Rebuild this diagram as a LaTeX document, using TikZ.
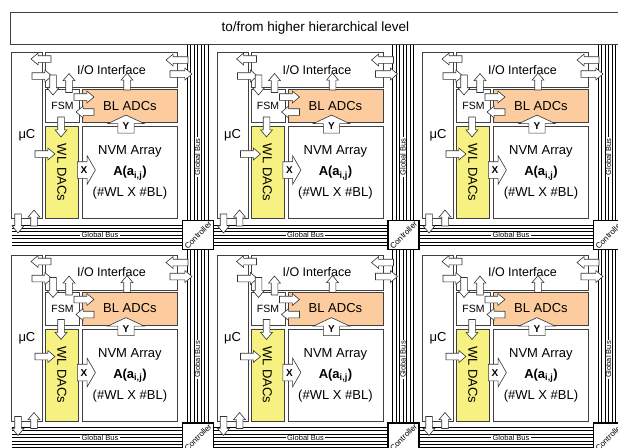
\documentclass[tikz,border=0pt]{standalone}
\usepackage{fontspec}
\setmainfont{Liberation Sans}
\usepackage{tikz}
\usetikzlibrary{shapes.arrows}

\definecolor{adcorange}{RGB}{252,204,158}
\definecolor{dacyellow}{RGB}{246,241,128}

\begin{document}
\begin{tikzpicture}[
  x=1pt, y=-1pt,
  every node/.style={inner sep=0pt},
  unit/.style={draw=black!75, line width=0.9pt, fill=white, anchor=north west, font=\fontsize{13}{15}\selectfont},
  blk/.style={single arrow, draw=black!80, fill=white, line width=0.6pt, inner xsep=0pt, inner ysep=3pt,
    single arrow head extend=2.6pt, single arrow tip angle=80, minimum height=20pt},
  wide/.style={single arrow, draw=black!80, fill=white, line width=0.6pt, font=\fontsize{10}{10}\selectfont\bfseries,
    text height=7pt, text depth=0pt, minimum height=18pt},
  ctrl/.style={draw, line width=1.1pt, fill=white, minimum width=31pt, minimum height=29pt},
  busline/.style={line width=0.55pt},
  buslabel/.style={fill=white, inner xsep=1.5pt, font=\fontsize{7.5}{8}\selectfont}
]
\useasboundingbox (0,0) rectangle (618,447);

% global buses
\foreach \c in {0,1,2}
  \foreach \k in {-3,...,3}
    \draw[busline] (197.5+205.5*\c+3.5*\k,44) -- (197.5+205.5*\c+3.5*\k,450);
\foreach \r in {0,1}
  \foreach \k in {-3,...,3}
    \draw[busline] (12,235+202.5*\r+3.4*\k) -- (620,235+202.5*\r+3.4*\k);

% higher level
\node[unit, minimum width=610pt, minimum height=32pt, font=\fontsize{13.5}{15}\selectfont] (top) at (10,12)
  {to/from higher hierarchical level};

% tiles
\foreach \c in {0,1,2}
\foreach \r in {0,1}{
\begin{scope}[shift={(205.5*\c,202.5*\r)}]
  % blocks
  \node[unit, minimum width=31pt, minimum height=166pt] (uc-\c-\r) at (11,52) {μC};
  \node[unit, minimum width=132pt, minimum height=35pt, font=\fontsize{12.5}{14}\selectfont] (io-\c-\r) at (45,52) {I/O Interface};
  \node[unit, minimum width=34pt, minimum height=33pt, font=\fontsize{10.5}{12}\selectfont] (fsm-\c-\r) at (45,89) {FSM};
  \node[unit, fill=adcorange, minimum width=95pt, minimum height=33pt] (adc-\c-\r) at (82,89) {BL ADCs};
  \node[unit, fill=dacyellow, minimum width=33pt, minimum height=92pt] (dac-\c-\r) at (45,126) {};
  \node[rotate=-90, font=\fontsize{13}{15}\selectfont] (dactxt-\c-\r) at (dac-\c-\r.center) {WL DACs};
  \node[unit, minimum width=95pt, minimum height=92pt, align=center, font=\fontsize{13}{21}\selectfont] (nvm-\c-\r) at (82,126)
    {NVM Array\\\textbf{A(a\textsubscript{i,j})}\\(\#WL X \#BL)};

  % block arrows
  \node[blk, rotate=180] (a1-\c-\r) at (43,59) {};
  \node[blk] (a2-\c-\r) at (40,76) {};
  \node[blk, rotate=-90] (a3-\c-\r) at (53,83) {};
  \node[blk, rotate=90, minimum height=19pt] (a4-\c-\r) at (69,85) {};
  \node[blk] (a5-\c-\r) at (82,97) {};
  \node[blk, rotate=180, minimum height=18pt] (a6-\c-\r) at (87,112) {};
  \node[blk, rotate=90, minimum height=17pt] (a7-\c-\r) at (127,83.5) {};
  \node[blk, rotate=-90] (a8-\c-\r) at (61,125) {};
  \node[blk] (a9-\c-\r) at (43,154) {};
  \node[blk, rotate=-90, minimum height=19pt] (a10-\c-\r) at (18,221.5) {};
  \node[blk, rotate=90, minimum height=16pt] (a11-\c-\r) at (34,220) {};
  \node[blk, rotate=180, minimum height=22pt] (a12-\c-\r) at (179,60) {};
  \node[blk, minimum height=22pt] (a13-\c-\r) at (179,74) {};
  \node[wide, inner xsep=1.5pt, inner ysep=4.5pt, single arrow head extend=6pt, single arrow tip angle=120] (ax-\c-\r) at (84,170) {X};
  \node[wide, shape border rotate=90, inner xsep=4.5pt, inner ysep=1.5pt, single arrow head extend=10pt, single arrow tip angle=130] (ay-\c-\r) at (126,126) {Y};

  % controller and bus labels
  \node[ctrl] (ctl-\c-\r) at (198,235) {};
  \node[rotate=45, font=\fontsize{8}{8}\selectfont] (ctltxt-\c-\r) at (ctl-\c-\r) {Controller};
  \node[buslabel] (hbus-\c-\r) at (100,235) {Global Bus};
  \node[buslabel, rotate=90] (vbus-\c-\r) at (197.5,157) {Global Bus};
\end{scope}}

\end{tikzpicture}
\end{document}
